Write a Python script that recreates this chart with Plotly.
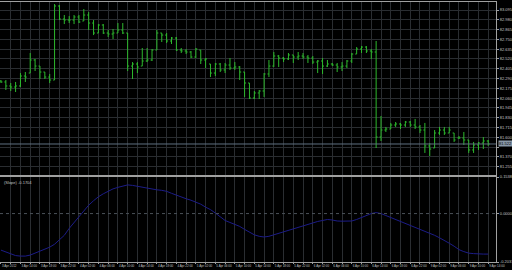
import plotly.graph_objects as go

# ---- data (USDJPY H1 style bars) ----
bar_open = [82.261, 82.250, 82.203, 82.191, 82.203, 82.320, 82.355, 82.508, 82.437, 82.367,
            82.308, 82.273, 83.142, 82.989, 82.977, 82.977, 83.013, 82.966, 83.036, 82.942,
            82.825, 82.919, 82.825, 82.813, 82.825, 82.860, 82.825, 82.437, 82.461, 82.437,
            82.496, 82.508, 82.625, 82.825, 82.801, 82.731, 82.766, 82.625, 82.614, 82.602,
            82.543, 82.625, 82.508, 82.461, 82.355, 82.461, 82.391, 82.449, 82.414, 82.426,
            82.367, 82.238, 82.062, 82.121, 82.144, 82.344, 82.437, 82.555, 82.531, 82.520,
            82.567, 82.543, 82.555, 82.543, 82.531, 82.484, 82.496, 82.437, 82.461, 82.449,
            82.426, 82.437, 82.496, 82.578, 82.637, 82.660, 82.614, 82.602, 81.604, 81.686,
            81.698, 81.745, 81.757, 81.745, 81.780, 81.745, 81.722, 81.686, 81.499, 81.475,
            81.651, 81.686, 81.651, 81.651, 81.593, 81.593, 81.569, 81.452, 81.510, 81.534,
            81.557]
bar_high = [82.273, 82.273, 82.238, 82.250, 82.355, 82.367, 82.590, 82.520, 82.437, 82.367,
            82.344, 83.165, 83.153, 83.036, 83.024, 83.036, 83.036, 83.106, 83.071, 82.977,
            82.930, 82.930, 82.860, 82.872, 82.942, 82.942, 82.825, 82.484, 82.484, 82.649,
            82.649, 82.637, 82.860, 82.825, 82.825, 82.778, 82.778, 82.649, 82.637, 82.614,
            82.649, 82.625, 82.531, 82.461, 82.473, 82.473, 82.473, 82.531, 82.484, 82.437,
            82.367, 82.238, 82.144, 82.156, 82.355, 82.508, 82.602, 82.567, 82.543, 82.590,
            82.567, 82.602, 82.590, 82.567, 82.555, 82.508, 82.531, 82.508, 82.473, 82.473,
            82.484, 82.508, 82.590, 82.660, 82.672, 82.672, 82.637, 82.731, 81.851, 81.722,
            81.769, 81.780, 81.769, 81.792, 81.792, 81.816, 81.745, 81.769, 81.534, 81.686,
            81.722, 81.722, 81.722, 81.651, 81.616, 81.663, 81.569, 81.546, 81.546, 81.604,
            81.569]
bar_low = [82.238, 82.156, 82.144, 82.132, 82.191, 82.250, 82.355, 82.379, 82.285, 82.285,
           82.238, 82.273, 82.977, 82.930, 82.942, 82.930, 82.942, 82.966, 82.860, 82.801,
           82.825, 82.813, 82.778, 82.754, 82.825, 82.813, 82.379, 82.285, 82.355, 82.437,
           82.484, 82.496, 82.625, 82.719, 82.707, 82.696, 82.614, 82.590, 82.578, 82.531,
           82.531, 82.461, 82.414, 82.308, 82.320, 82.367, 82.355, 82.391, 82.391, 82.273,
           82.074, 82.050, 82.050, 82.050, 82.074, 82.308, 82.426, 82.426, 82.484, 82.508,
           82.473, 82.508, 82.520, 82.473, 82.461, 82.355, 82.344, 82.426, 82.437, 82.367,
           82.379, 82.414, 82.473, 82.578, 82.590, 82.590, 82.520, 81.475, 81.557, 81.663,
           81.698, 81.722, 81.698, 81.722, 81.722, 81.698, 81.651, 81.417, 81.381, 81.475,
           81.628, 81.628, 81.651, 81.546, 81.581, 81.510, 81.417, 81.417, 81.452, 81.463,
           81.499]
bar_close = [82.250, 82.203, 82.191, 82.203, 82.320, 82.308, 82.508, 82.437, 82.367, 82.308,
             82.273, 83.142, 82.989, 82.977, 82.977, 83.013, 82.954, 83.036, 82.942, 82.825,
             82.919, 82.825, 82.813, 82.825, 82.860, 82.825, 82.437, 82.461, 82.426, 82.496,
             82.508, 82.625, 82.825, 82.801, 82.731, 82.766, 82.625, 82.614, 82.602, 82.543,
             82.637, 82.508, 82.520, 82.355, 82.461, 82.391, 82.449, 82.414, 82.426, 82.367,
             82.238, 82.062, 82.121, 82.144, 82.344, 82.437, 82.555, 82.531, 82.520, 82.567,
             82.543, 82.555, 82.543, 82.531, 82.484, 82.496, 82.437, 82.461, 82.449, 82.426,
             82.437, 82.496, 82.578, 82.637, 82.660, 82.614, 82.602, 81.604, 81.686, 81.698,
             81.745, 81.757, 81.745, 81.780, 81.745, 81.722, 81.686, 81.499, 81.463, 81.651,
             81.686, 81.651, 81.686, 81.569, 81.593, 81.569, 81.452, 81.510, 81.534, 81.557,
             81.522]

indicator = [-0.1538, -0.1621, -0.1704, -0.1767, -0.1788, -0.1788, -0.1746, -0.1663, -0.1580, -0.1517,
             -0.1413, -0.1289, -0.1122, -0.0915, -0.0624, -0.0374, -0.0125, 0.0125, 0.0353, 0.0540,
             0.0707, 0.0831, 0.0935, 0.1039, 0.1102, 0.1164, 0.1206, 0.1185, 0.1143, 0.1102,
             0.1081, 0.1039, 0.0998, 0.0977, 0.0935, 0.0852, 0.0769, 0.0686, 0.0624, 0.0561,
             0.0478, 0.0395, 0.0270, 0.0166, 0.0021, -0.0145, -0.0291, -0.0374, -0.0457, -0.0540,
             -0.0665, -0.0790, -0.0894, -0.0956, -0.0985, -0.0956, -0.0894, -0.0811, -0.0748, -0.0686,
             -0.0624, -0.0561, -0.0499, -0.0436, -0.0374, -0.0333, -0.0291, -0.0249, -0.0270, -0.0312,
             -0.0320, -0.0320, -0.0312, -0.0249, -0.0166, -0.0083, 0.0000, 0.0042, 0.0000, -0.0083,
             -0.0166, -0.0249, -0.0333, -0.0395, -0.0478, -0.0561, -0.0644, -0.0727, -0.0811, -0.0915,
             -0.1018, -0.1122, -0.1247, -0.1372, -0.1517, -0.1600, -0.1663, -0.1684, -0.1704, -0.1704,
             -0.1704]

bars = list(range(len(bar_close)))

time_labels = ["3 Apr 2012", "3 Apr 14:00", "3 Apr 18:00", "3 Apr 22:00", "4 Apr 02:00",
               "4 Apr 06:00", "4 Apr 10:00", "4 Apr 14:00", "4 Apr 18:00", "4 Apr 22:00",
               "5 Apr 02:00", "5 Apr 06:00", "5 Apr 10:00", "5 Apr 14:00", "5 Apr 18:00",
               "5 Apr 22:00", "6 Apr 02:00", "6 Apr 06:00", "6 Apr 10:00", "6 Apr 14:00",
               "6 Apr 18:00", "6 Apr 22:00", "9 Apr 02:00", "9 Apr 06:00", "9 Apr 10:00",
               "9 Apr 14:00"]

price_ticks = [83.095, 82.980, 82.865, 82.750, 82.635, 82.520, 82.405, 82.290, 82.175,
               82.060, 81.945, 81.830, 81.715, 81.600, 81.485, 81.370, 81.255]
bid_price = 81.522

ind_ticks = [0.1538, 0.0, -0.2037]
ind_level = 0.0
ind_name = "(Slope) -0.1704"

# ---- styling ----
GREEN = "#2db82d"
GRID = "#2a2d31"
FRAME = "#a0a0a0"
TXT = "#c0c0c0"
FONT = "Liberation Sans"

fig = go.Figure()
fig.add_trace(go.Ohlc(x=bars, open=bar_open, high=bar_high, low=bar_low, close=bar_close,
                      increasing=dict(line=dict(color=GREEN, width=1)),
                      decreasing=dict(line=dict(color=GREEN, width=1)),
                      tickwidth=0.3, xaxis="x", yaxis="y", showlegend=False, hoverinfo="skip"))
fig.add_trace(go.Scatter(x=bars, y=indicator, mode="lines", line=dict(color="#1c1c88", width=1),
                         xaxis="x2", yaxis="y2", showlegend=False, hoverinfo="skip"))

grid_vals = list(range(0, len(bars) + 1, 2))
tt = []
for v in grid_vals:
    if v % 4 == 0 and v // 4 < len(time_labels):
        tt.append(time_labels[v // 4])
    else:
        tt.append("")

price_text = ["%.3f" % p for p in price_ticks]
price_text[14] = ""

xr = [-0.2, 101.6]
fig.update_layout(
    width=512, height=270,
    margin=dict(l=0, r=16, t=2, b=8),
    paper_bgcolor="black", plot_bgcolor="black",
    font=dict(family=FONT, color=TXT, size=4),
    xaxis=dict(domain=[0, 1], anchor="y", range=xr, tickmode="array", tickvals=grid_vals,
               showticklabels=False, showgrid=True, gridcolor=GRID, gridwidth=1, zeroline=False,
               showline=True, mirror=True, linecolor=FRAME, linewidth=1, ticks="",
               rangeslider=dict(visible=False), automargin=False),
    yaxis=dict(domain=[0.33462, 1], anchor="x", side="right", range=[81.158, 83.189],
               tickmode="array", tickvals=price_ticks, ticktext=price_text,
               showgrid=True, gridcolor=GRID, gridwidth=1, zeroline=False,
               showline=True, mirror=True, linecolor=FRAME, linewidth=1,
               ticks="outside", ticklen=2, tickcolor=FRAME, tickfont=dict(size=4, color=TXT),
               automargin=False),
    xaxis2=dict(domain=[0, 1], anchor="y2", range=xr, tickmode="array", tickvals=grid_vals,
                ticktext=tt, ticklabelposition="outside right", tickangle=0, showgrid=True,
                gridcolor=GRID, gridwidth=1, zeroline=False, showline=True, mirror=True,
                linecolor=FRAME, linewidth=1, ticks="outside", ticklen=1, tickcolor=FRAME,
                tickfont=dict(size=3, color=TXT), automargin=False),
    yaxis2=dict(domain=[0, 0.32692], anchor="x2", side="right", range=[-0.2037, 0.1538],
                tickmode="array", tickvals=ind_ticks, ticktext=["%.4f" % v for v in ind_ticks],
                showgrid=False, zeroline=False, showline=True, mirror=True, linecolor=FRAME,
                linewidth=1, ticks="outside", ticklen=2, tickcolor=FRAME,
                tickfont=dict(size=4, color=TXT), automargin=False),
)

# bid line
fig.add_shape(type="line", xref="x domain", yref="y", x0=0, x1=1, y0=bid_price, y1=bid_price,
              line=dict(color="#5f6f80", width=1))
fig.add_annotation(xref="paper", yref="y", x=1.0, y=bid_price, xanchor="left", yanchor="middle",
                   text="%.3f" % bid_price, showarrow=False, bgcolor="#8898a8", borderpad=0,
                   xshift=2, font=dict(size=4, color="black", family=FONT))
# indicator level
fig.add_shape(type="line", xref="x2 domain", yref="y2", x0=0, x1=1, y0=ind_level, y1=ind_level,
              line=dict(color="#4a5058", width=1, dash="dot"))
fig.add_annotation(xref="x2 domain", yref="y2 domain", x=0.005, y=1.0, xanchor="left",
                   yanchor="top", yshift=-1, text=ind_name, showarrow=False,
                   font=dict(size=4, color=TXT, family=FONT))

fig.write_html("out.html")
